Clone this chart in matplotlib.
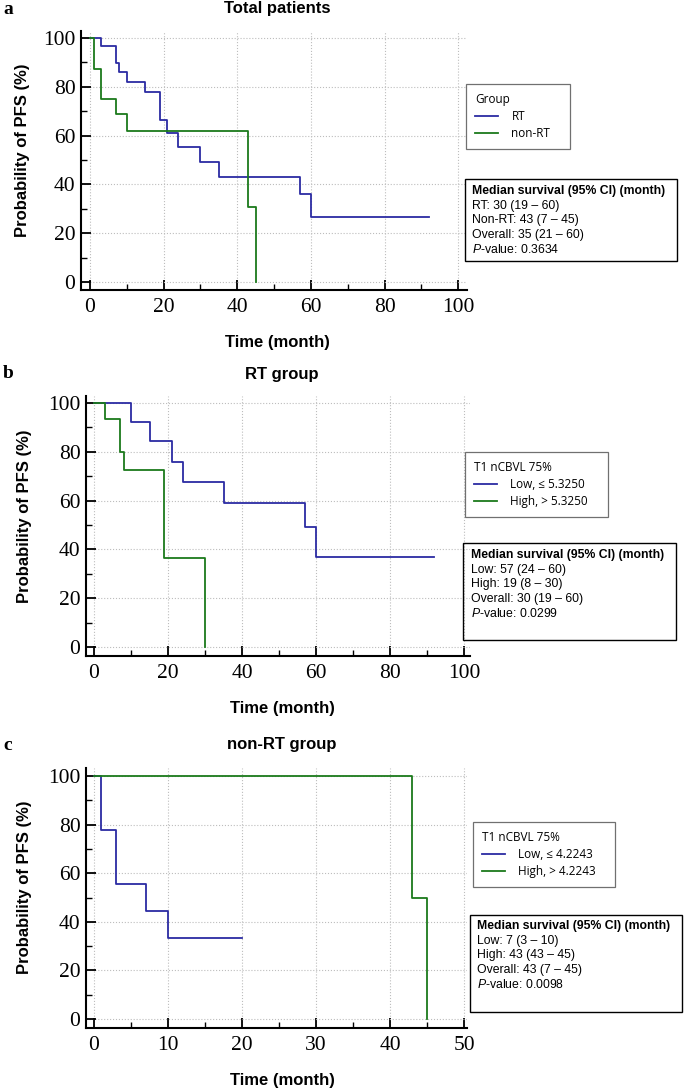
import matplotlib
matplotlib.use("Agg")
import matplotlib.pyplot as plt
from matplotlib.lines import Line2D
from matplotlib.patches import Rectangle
from matplotlib.ticker import MultipleLocator

# ---- data ----
# panel a: total patients
a_rt_t = [0, 3, 7, 8, 10, 15, 19, 21, 24, 30, 35, 57, 60, 92]
a_rt_s = [100, 96.7, 89.7, 86.0, 82.0, 77.7, 66.5, 61.0, 55.5, 49.0, 43.0, 36.0, 26.7, 26.7]
a_nrt_t = [0, 1, 3, 7, 10, 43, 45]
a_nrt_s = [100, 87.5, 75.0, 68.8, 61.9, 30.9, 0]

# panel b: RT group
b_low_t = [0, 10, 15, 21, 24, 35, 57, 60, 92]
b_low_s = [100, 92.3, 84.6, 76.0, 67.5, 59.1, 49.2, 36.9, 36.9]
b_high_t = [0, 3, 7, 8, 19, 30]
b_high_s = [100, 93.3, 79.8, 72.6, 36.3, 0]

# panel c: non-RT group
c_low_t = [0, 1, 3, 7, 10, 20]
c_low_s = [100, 77.8, 55.6, 44.4, 33.3, 33.3]
c_high_t = [0, 43, 45]
c_high_s = [100, 50, 0]

titles = ["Total patients", "RT group", "non-RT group"]
letters = ["a", "b", "c"]
legend_titles = ["Group", "T1 nCBVL 75%", "T1 nCBVL 75%"]
legend_labels = [["RT", "non-RT"],
                 ["Low, \u2264 5.3250", "High, > 5.3250"],
                 ["Low, \u2264 4.2243", "High, > 4.2243"]]
stats_text = [
    ["RT: 30 (19 \u2013 60)", "Non-RT: 43 (7 \u2013 45)", "Overall: 35 (21 \u2013 60)", "0.3634"],
    ["Low: 57 (24 \u2013 60)", "High: 19 (8 \u2013 30)", "Overall: 30 (19 \u2013 60)", "0.0299"],
    ["Low: 7 (3 \u2013 10)", "High: 43 (43 \u2013 45)", "Overall: 43 (7 \u2013 45)", "0.0098"],
]

BLUE = "#2b2ba3"
GREEN = "#1b7a1b"

plt.rcParams["mathtext.fontset"] = "custom"
plt.rcParams["mathtext.it"] = "Liberation Sans:italic"
plt.rcParams["mathtext.rm"] = "Liberation Sans"

W, H = 685, 1091
fig = plt.figure(figsize=(W / 100, H / 100), dpi=100)


def fx(px):
    return px / W


def fy(py):
    return 1 - py / H


# layout per panel (pixels)
panels = [
    dict(box=(81, 31, 467, 290), xlim=(-2.45, 102.4), ylim=(-3.3, 102.9), xmaj=20,
         title_y=9, ylab=(23, 150), xlab=(277, 343),
         leg=(466, 85, 104), stat=(465, 179, 677, 261), stat_x=472, stat_y0=191),
    dict(box=(86, 396, 470, 656), xlim=(-2.16, 101.6), ylim=(-3.7, 102.9), xmaj=20,
         title_y=374, ylab=(25, 516), xlab=(282, 709),
         leg=(465, 453, 143), stat=(463, 543, 676, 640), stat_x=471, stat_y0=555),
    dict(box=(86, 768, 467, 1028), xlim=(-1.08, 50.4), ylim=(-3.7, 103.3), xmaj=10,
         title_y=745, ylab=(25, 887), xlab=(282, 1080),
         leg=(473, 823, 142), stat=(470, 915, 682, 1012), stat_x=477, stat_y0=926),
]

series = [
    [(a_rt_t, a_rt_s, BLUE), (a_nrt_t, a_nrt_s, GREEN)],
    [(b_low_t, b_low_s, BLUE), (b_high_t, b_high_s, GREEN)],
    [(c_low_t, c_low_s, BLUE), (c_high_t, c_high_s, GREEN)],
]

for i, p in enumerate(panels):
    l, t, r, b = p["box"]
    ax = fig.add_axes([fx(l), fy(b), (r - l) / W, (b - t) / H])
    for tt, ss, col in series[i]:
        ax.step(tt, ss, where="post", color=col, lw=1.3)

    ax.set_xlim(*p["xlim"])
    ax.set_ylim(*p["ylim"])
    ax.xaxis.set_major_locator(MultipleLocator(p["xmaj"]))
    ax.xaxis.set_minor_locator(MultipleLocator(p["xmaj"] / 2))
    ax.yaxis.set_major_locator(MultipleLocator(20))
    ax.yaxis.set_minor_locator(MultipleLocator(10))
    for side in ["top", "right"]:
        ax.spines[side].set_visible(False)
    for side in ["left", "bottom"]:
        ax.spines[side].set_linewidth(1.5)
    ax.tick_params(which="major", direction="in", length=7, width=1.3)
    ax.tick_params(which="minor", direction="in", length=4, width=1.0)
    ax.tick_params(axis="x", which="major", pad=6)
    ax.tick_params(axis="y", which="major", pad=4)
    for lab in ax.get_xticklabels() + ax.get_yticklabels():
        lab.set_fontfamily("Liberation Serif")
        lab.set_fontsize(15.5)
    ax.grid(True, which="major", color="#bdbdbd", linestyle=":", linewidth=0.8)
    ax.set_axisbelow(True)

    fig.text(fx(p["xlab"][0]), fy(p["title_y"]), titles[i], ha="center", va="center",
             fontsize=12, fontweight="bold", family="Liberation Sans")
    fig.text(fx(8), fy(p["title_y"]), letters[i], ha="center", va="center",
             fontsize=14, fontweight="bold", family="Liberation Serif")
    fig.text(fx(p["ylab"][0]), fy(p["ylab"][1]), "Probability of PFS (%)", rotation=90,
             ha="center", va="center", fontsize=12, fontweight="bold", family="Liberation Sans")
    fig.text(fx(p["xlab"][0]), fy(p["xlab"][1]), "Time (month)", ha="center", va="center",
             fontsize=12, fontweight="bold", family="Liberation Sans")

    # legend
    lx, ly, lw_ = p["leg"]
    handles = [Line2D([], [], color=BLUE, lw=1.3), Line2D([], [], color=GREEN, lw=1.3)]
    leg = ax.legend(handles, legend_labels[i], title=legend_titles[i], loc="upper left",
                    bbox_to_anchor=(fx(lx), fy(ly), lw_ / W, 0.001),
                    bbox_transform=fig.transFigure, mode="expand", borderaxespad=0,
                    prop={"family": ["Open Sans", "DejaVu Sans"], "size": 8.5},
                    title_fontproperties={"family": ["Open Sans", "DejaVu Sans"], "size": 8.5},
                    alignment="left", handlelength=2.0, handletextpad=1.1,
                    labelspacing=0.35, borderpad=0.75, fancybox=False, framealpha=1)
    leg.get_frame().set_edgecolor("#707070")
    leg.get_frame().set_linewidth(0.9)

    # statistics box
    x0, y0, x1, y1 = p["stat"]
    fig.patches.append(Rectangle((fx(x0), fy(y1)), (x1 - x0) / W, (y1 - y0) / H,
                                 transform=fig.transFigure, fill=False,
                                 edgecolor="black", linewidth=1.0))
    lines = ["Median survival (95% CI) (month)"] + stats_text[i][:3] + \
            [r"$\mathit{P}$-value: " + stats_text[i][3]]
    for k, txt in enumerate(lines):
        fig.text(fx(p["stat_x"]), fy(p["stat_y0"] + 14.6 * k), txt, ha="left", va="center",
                 fontsize=8.8, family="Liberation Sans",
                 fontweight="bold" if k == 0 else "normal")

fig.savefig("out.png", dpi=100)
